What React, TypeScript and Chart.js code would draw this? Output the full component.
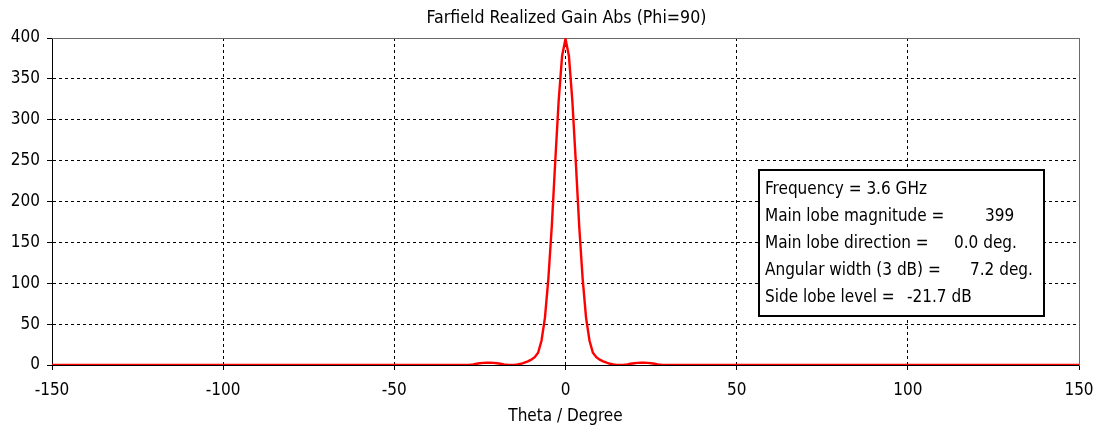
import { useEffect, useRef } from "react";
import { Chart, registerables } from "chart.js";

Chart.register(...registerables);

const FONT = '"DejaVu Sans Condensed", "DejaVu Sans", sans-serif';

const chartTitle = "Farfield Realized Gain Abs (Phi=90)";
const xAxisTitle = "Theta / Degree";

const thetaDeg = [
  -150, -120, -90, -60, -45, -35, -30, -29, -28, -27, -26, -25, -24, -23, -22, -21,
  -20, -19, -18, -17, -16, -15, -14, -13, -12, -11, -10, -9, -8, -7, -6, -5, -4, -3,
  -2, -1, 0, 1, 2, 3, 4, 5, 6, 7, 8, 9, 10, 11, 12, 13, 14, 15, 16, 17, 18, 19, 20,
  21, 22, 23, 24, 25, 26, 27, 28, 29, 30, 35, 45, 60, 90, 120, 150,
];

const gainAbs = [
  0.01, 0.01, 0.02, 0.03, 0.05, 0.1, 0.05, 0.1, 0.3, 0.8, 1.5, 2.2, 2.6, 2.7, 2.7, 2.6,
  2.2, 1.5, 0.8, 0.3, 0.1, 0.2, 0.6, 1.5, 2.8, 4.5, 6.5, 9.5, 15, 30, 58, 106, 170, 249,
  323, 378, 399, 378, 323, 249, 170, 106, 58, 30, 15, 9.5, 6.5, 4.5, 2.8, 1.5, 0.6, 0.2, 0.1, 0.3, 0.8, 1.5, 2.2,
  2.6, 2.7, 2.7, 2.6, 2.2, 1.5, 0.8, 0.3, 0.1, 0.05, 0.1, 0.05, 0.03, 0.02, 0.01, 0.01,
];

const xTicks = [-150, -100, -50, 0, 50, 100, 150];
const yTicks = [0, 50, 100, 150, 200, 250, 300, 350, 400];

const infoLabels = [
  "Frequency = 3.6 GHz",
  "Main lobe magnitude =",
  "Main lobe direction =",
  "Angular width (3 dB) =",
  "Side lobe level =",
];
const infoValues = ["", "399", "0.0 deg.", "7.2 deg.", "-21.7 dB"];

const overlayPlugin = {
  id: "overlay",
  beforeDatasetsDraw(chart: any) {
    const { ctx, chartArea: a } = chart;
    ctx.save();
    ctx.strokeStyle = "#6a6a6a";
    ctx.lineWidth = 1;
    ctx.setLineDash([]);
    ctx.beginPath();
    ctx.moveTo(a.left, a.top + 0.5);
    ctx.lineTo(a.right + 1, a.top + 0.5);
    ctx.moveTo(a.right + 0.5, a.top);
    ctx.lineTo(a.right + 0.5, a.bottom + 1);
    ctx.stroke();
    ctx.restore();
  },
  afterDraw(chart: any) {
    const { ctx, chartArea: a } = chart;
    ctx.save();
    ctx.fillStyle = "#000";
    ctx.font = `17.6px ${FONT}`;
    ctx.textAlign = "center";
    ctx.textBaseline = "alphabetic";
    ctx.fillText(chartTitle, (a.left + a.right) / 2 + 1, 23);

    // info box
    ctx.fillStyle = "#fff";
    ctx.fillRect(758, 169, 287, 148);
    ctx.strokeStyle = "#000";
    ctx.lineWidth = 2;
    ctx.strokeRect(759, 170, 285, 146);
    ctx.fillStyle = "#000";
    ctx.font = `17px ${FONT}`;
    ctx.textAlign = "left";
    const valueX = [0, 985, 954, 970, 907];
    infoLabels.forEach((label, i) => {
      const y = 193.5 + i * 27.1;
      ctx.fillText(label, 765, y);
      if (infoValues[i]) ctx.fillText(infoValues[i], valueX[i], y);
    });
    ctx.restore();
  },
};

export default function App() {
  const canvasRef = useRef<HTMLCanvasElement | null>(null);

  useEffect(() => {
    const canvas = canvasRef.current;
    if (!canvas) return;
    const edgeX = (v: number) => v === xTicks[0] || v === xTicks[xTicks.length - 1];
    const edgeY = (v: number) => v === yTicks[0] || v === yTicks[yTicks.length - 1];
    const chart = new Chart(canvas, {
      type: "line",
      data: {
        datasets: [
          {
            data: thetaDeg.map((x, i) => ({ x, y: gainAbs[i] })),
            borderColor: "#ff0000",
            backgroundColor: "#ff0000",
            borderWidth: 2.4,
            pointRadius: 0,
            tension: 0,
            fill: false,
          },
        ],
      },
      options: {
        responsive: false,
        animation: false,
        devicePixelRatio: 1,
        layout: { padding: { left: 0, right: 18, top: 38, bottom: 0 } },
        plugins: {
          legend: { display: false },
          tooltip: { enabled: false },
          title: { display: false },
        },
        scales: {
          x: {
            type: "linear",
            min: -150,
            max: 150,
            afterBuildTicks: (s: any) => {
              s.ticks = xTicks.map((v) => ({ value: v }));
            },
            afterFit: (s: any) => {
              s.height = 62;
              s.paddingLeft = 0;
              s.paddingRight = 0;
            },
            ticks: {
              color: "#000",
              font: { family: FONT, size: 17 },
              padding: 10,
              maxRotation: 0,
              autoSkip: false,
            },
            grid: {
              color: (c: any) => (c.tick && edgeX(c.tick.value) ? "rgba(0,0,0,0)" : "#000"),
              lineWidth: 1,
              tickLength: 5,
              tickColor: "#000",
              tickBorderDash: [],
              drawTicks: true,
            },
            border: { display: true, color: "#000", width: 1, dash: [3, 3] },
            title: {
              display: true,
              text: xAxisTitle,
              color: "#000",
              font: { family: FONT, size: 17 },
              padding: { top: 0, bottom: 0 },
            },
          },
          y: {
            type: "linear",
            min: 0,
            max: 400,
            afterBuildTicks: (s: any) => {
              s.ticks = yTicks.map((v) => ({ value: v }));
            },
            afterFit: (s: any) => {
              s.width = 52;
              s.paddingTop = 0;
              s.paddingBottom = 0;
            },
            ticks: {
              color: "#000",
              font: { family: FONT, size: 17 },
              padding: 7,
            },
            grid: {
              color: (c: any) => (c.tick && edgeY(c.tick.value) ? "rgba(0,0,0,0)" : "#000"),
              lineWidth: 1,
              tickLength: 5,
              tickColor: "#000",
              tickBorderDash: [],
              drawTicks: true,
            },
            border: { display: true, color: "#000", width: 1, dash: [3, 3] },
          },
        },
      },
      plugins: [overlayPlugin],
    });
    return () => chart.destroy();
  }, []);

  return (
    <div
      style={{
        position: "absolute",
        left: 0,
        top: 0,
        width: 1097,
        height: 427,
        background: "#fff",
      }}
    >
      <canvas ref={canvasRef} width={1097} height={427} style={{ display: "block", width: 1097, height: 427 }} />
    </div>
  );
}
